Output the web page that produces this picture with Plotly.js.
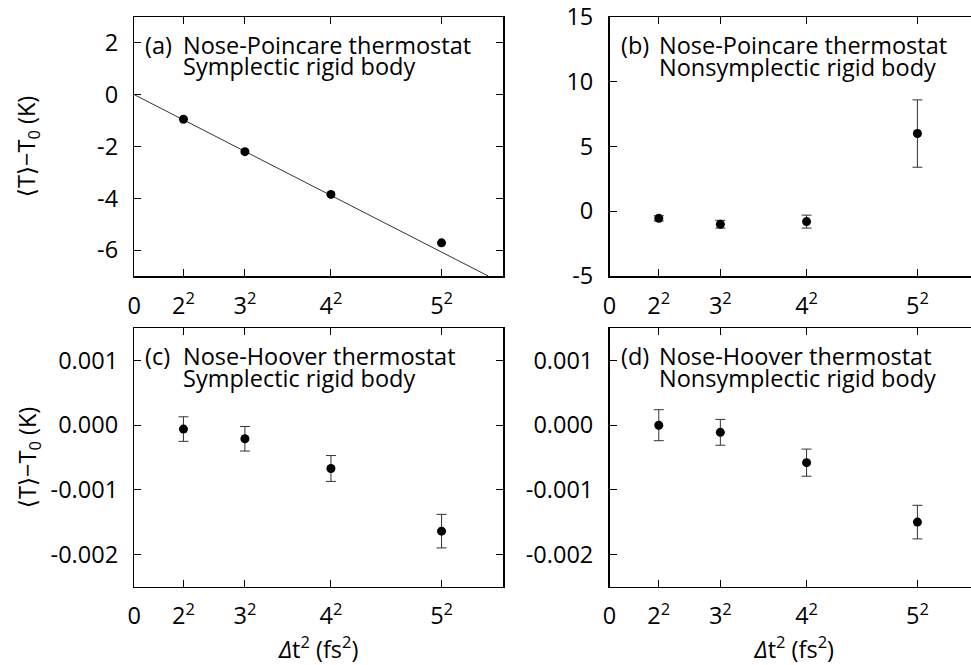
<!DOCTYPE html>
<html>
<head>
<meta charset="utf-8">
<script src="https://cdn.plot.ly/plotly-3.0.1.min.js"></script>
<style>
html,body{margin:0;padding:0;overflow:hidden;background:#fff;}
#chart{width:980px;height:665px;}
</style>
</head>
<body>
<div id="chart"></div>
<script>
// x positions are Δt² values (fs²)
const dtSquared = [4, 9, 16, 25];
const xTickVals = [0, 4, 9, 16, 25];
const xTickText = ['0', '2<sup>2</sup>', '3<sup>2</sup>', '4<sup>2</sup>', '5<sup>2</sup>'];

// (a) Nose-Poincare, symplectic
const aY = [-0.95, -2.2, -3.85, -5.72];
const aFitX = [0, 28.8];
const aFitY = [0, -7];

// (b) Nose-Poincare, nonsymplectic
const bY = [-0.55, -1.0, -0.8, 6.0];
const bErr = [0.2, 0.3, 0.5, 2.6];

// (c) Nose-Hoover, symplectic
const cY = [-0.00006, -0.00021, -0.00067, -0.00164];
const cErr = [0.00019, 0.00019, 0.0002, 0.00026];

// (d) Nose-Hoover, nonsymplectic
const dY = [0.0, -0.00011, -0.00058, -0.0015];
const dErr = [0.00024, 0.0002, 0.00021, 0.00026];

const W = 980, H = 665;
const px = v => v / W;
const py = v => 1 - v / H;

const FONT = '"Open Sans", "DejaVu Sans", sans-serif';
const FS = 23.5;

const marker = {color: '#000', size: 9};
const errStyle = arr => ({type: 'data', array: arr, visible: true, color: '#333', thickness: 1, width: 5});

const traces = [
  {x: aFitX, y: aFitY, xaxis: 'x', yaxis: 'y', mode: 'lines', line: {color: '#333', width: 1}, hoverinfo: 'skip'},
  {x: dtSquared, y: aY, xaxis: 'x', yaxis: 'y', mode: 'markers', marker: marker},
  {x: dtSquared, y: bY, xaxis: 'x2', yaxis: 'y2', mode: 'markers', marker: marker, error_y: errStyle(bErr)},
  {x: dtSquared, y: cY, xaxis: 'x3', yaxis: 'y3', mode: 'markers', marker: marker, error_y: errStyle(cErr)},
  {x: dtSquared, y: dY, xaxis: 'x4', yaxis: 'y4', mode: 'markers', marker: marker, error_y: errStyle(dErr)}
];

function xAxis(domain, anchor, withTitle) {
  const ax = {
    domain: domain, anchor: anchor, range: [0, 30],
    tickmode: 'array', tickvals: xTickVals, ticktext: xTickText,
    ticks: 'inside', ticklen: 7, tickwidth: 1, tickcolor: '#000',
    showline: true, linecolor: '#000', linewidth: 1.5, mirror: 'ticks',
    showgrid: false, zeroline: false, automargin: false,
    ticklabelstandoff: 8,
    tickfont: {family: FONT, size: FS, color: '#000'}
  };
  if (withTitle) {
    ax.title = {text: '<i>Δ</i>t<sup>2</sup> (fs<sup>2</sup>)', font: {family: FONT, size: FS, color: '#000'}, standoff: 15};
  }
  return ax;
}
function yAxis(domain, anchor, range, tickvals, ticktext, title, standoff) {
  const ax = {
    domain: domain, anchor: anchor, range: range,
    tickmode: 'array', tickvals: tickvals, ticktext: ticktext,
    ticks: 'inside', ticklen: 7, tickwidth: 1, tickcolor: '#000',
    showline: true, linecolor: '#000', linewidth: 1.5, mirror: 'ticks',
    showgrid: false, zeroline: false, automargin: false,
    ticklabelstandoff: 10,
    tickfont: {family: FONT, size: FS, color: '#000'}
  };
  if (title) {
    ax.title = {text: title, font: {family: FONT, size: FS, color: '#000'}, standoff: standoff};
  }
  return ax;
}

const xLeft = [px(134.3), px(503)];
const xRight = [px(609.5), px(979)];
const yTop = [py(276), py(17)];
const yBot = [py(586.7), py(328.3)];

const yTitle = '⟨T⟩−T<sub>0</sub> (K)';
const nhVals = [0.001, 0, -0.001, -0.002];
const nhText = ['0.001', '0.000', '-0.001', '-0.002'];

function label(x, y, text) {
  return {xref: 'paper', yref: 'paper', x: px(x), y: py(y), xanchor: 'left', yanchor: 'middle',
    text: text, showarrow: false, font: {family: FONT, size: FS, color: '#000'}};
}

const annotations = [
  label(143, 45, '(a)'), label(181, 45, 'Nose-Poincare thermostat'), label(181, 66, 'Symplectic rigid body'),
  label(619, 45, '(b)'), label(657, 45, 'Nose-Poincare thermostat'), label(657, 67, 'Nonsymplectic rigid body'),
  label(143, 356, '(c)'), label(181, 356, 'Nose-Hoover thermostat'), label(181, 378, 'Symplectic rigid body'),
  label(619, 356, '(d)'), label(657, 356, 'Nose-Hoover thermostat'), label(657, 378, 'Nonsymplectic rigid body')
];

const layout = {
  width: W, height: H,
  margin: {l: 0, r: 0, t: 0, b: 0},
  paper_bgcolor: '#fff', plot_bgcolor: '#fff',
  showlegend: false,
  font: {family: FONT, size: FS, color: '#000'},
  xaxis: xAxis(xLeft, 'y', false),
  yaxis: yAxis(yTop, 'x', [-7, 3], [2, 0, -2, -4, -6], ['2', '0', '-2', '-4', '-6'], yTitle, 55),
  xaxis2: xAxis(xRight, 'y2', false),
  yaxis2: yAxis(yTop, 'x2', [-5, 15], [15, 10, 5, 0, -5], ['15', '10', '5', '0', '-5'], null, 0),
  xaxis3: xAxis(xLeft, 'y3', true),
  yaxis3: yAxis(yBot, 'x3', [-0.0025, 0.0015], nhVals, nhText, yTitle, 7),
  xaxis4: xAxis(xRight, 'y4', true),
  yaxis4: yAxis(yBot, 'x4', [-0.0025, 0.0015], nhVals, nhText, null, 0),
  annotations: annotations
};

Plotly.newPlot('chart', traces, layout, {displayModeBar: false, staticPlot: true});
</script>
</body>
</html>
